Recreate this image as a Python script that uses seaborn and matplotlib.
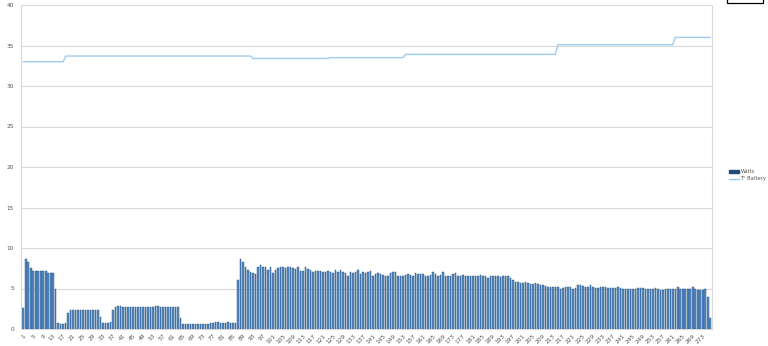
import numpy as np
import pandas as pd
import matplotlib
matplotlib.use("Agg")
import matplotlib.pyplot as plt
import seaborn as sns
from matplotlib.patches import Patch, Rectangle
from matplotlib.lines import Line2D

# ---------------- data ----------------
watts = [
    2.6, 8.7, 8.3, 7.5, 7.2, 7.1, 7.1, 7.1, 7.1, 7.2, 6.9, 6.9, 6.9, 5.0,
    0.8, 0.6, 0.6, 0.8, 2.0,
    2.4, 2.3, 2.3, 2.3, 2.3, 2.3, 2.3, 2.35, 2.3, 2.3, 2.3, 2.3,
    1.5, 0.8, 0.8, 0.8, 0.9, 2.3,
    2.75, 2.8, 2.8, 2.75, 2.7, 2.7, 2.7, 2.7, 2.7, 2.75, 2.7, 2.7, 2.7,
    2.75, 2.75, 2.75, 2.8, 2.9, 2.7, 2.7, 2.7, 2.7, 2.7, 2.7, 2.7, 2.7,
    1.4,
    0.6, 0.6, 0.6, 0.6, 0.6, 0.6, 0.6, 0.6, 0.6, 0.6, 0.65,
    0.7,
    0.8, 0.85, 0.85, 0.8, 0.8, 0.8, 0.9,
    0.7, 0.7, 0.7,
    6.0, 8.6, 8.3, 7.6, 7.3, 7.0, 6.9, 6.85, 7.6, 7.9, 7.7, 7.6, 7.3, 7.7,
    6.9, 7.3, 7.5, 7.6, 7.6, 7.5, 7.6, 7.6, 7.5,
    7.4, 7.6, 7.2, 7.2, 7.7, 7.4, 7.3, 7.0, 7.2, 7.2,
    7.2, 7.0, 7.0, 7.2, 7.0, 6.95, 7.3, 7.0, 7.3, 7.0,
    6.9, 6.6, 7.0, 6.9, 7.0, 7.3, 6.8, 7.0, 6.9, 7.0,
    7.1, 6.6, 6.8, 6.9, 6.8, 6.7, 6.6, 6.5, 6.9, 7.0,
    7.0, 6.6, 6.6, 6.6, 6.7, 6.8, 6.7, 6.6, 6.9, 6.8,
    6.8, 6.8, 6.6, 6.6, 6.7, 7.0,
    6.8, 6.6, 6.7, 7.0, 6.6, 6.6, 6.5, 6.8, 6.9, 6.6,
    6.5, 6.7, 6.5, 6.5, 6.5, 6.6, 6.5, 6.6, 6.7, 6.6,
    6.6, 6.3, 6.6, 6.6, 6.5, 6.5, 6.4, 6.6, 6.5, 6.5,
    6.3, 6.0, 5.8, 5.8, 5.7, 5.7, 5.8, 5.7, 5.6, 5.6,
    5.7, 5.6, 5.4, 5.4, 5.3, 5.2, 5.2, 5.2, 5.2, 5.2,
    5.0, 5.1, 5.2, 5.2, 5.2, 5.0,
    5.1, 5.4, 5.4, 5.35, 5.2, 5.2, 5.4, 5.2, 5.1, 5.1,
    5.2, 5.2, 5.2, 5.1, 5.1, 5.1, 5.1, 5.2, 5.1, 5.0,
    5.0, 5.0, 5.0, 4.95, 5.0, 5.1, 5.1, 5.1, 4.9, 4.9,
    5.0, 5.0, 5.05, 4.9, 4.8, 4.8, 5.0, 5.0, 4.95, 4.9,
    4.9, 5.2, 5.0, 5.0, 4.9, 4.9, 5.0, 5.2, 4.9, 4.8,
    4.85, 4.8, 4.9, 4.0, 1.3,
]

temp_battery = [
    33.0, 33.0, 33.0, 33.0, 33.0, 33.0, 33.0, 33.0, 33.0, 33.0, 33.0, 33.0, 33.0, 33.0, 33.0, 33.0, 33.0,
    33.7, 33.7, 33.7, 33.7, 33.7, 33.7, 33.7, 33.7, 33.7, 33.7, 33.7, 33.7, 33.7, 33.7, 33.7,
    33.7, 33.7, 33.7, 33.7, 33.7, 33.7, 33.7, 33.7, 33.7, 33.7, 33.7, 33.7, 33.7, 33.7, 33.7,
    33.7, 33.7, 33.7, 33.7, 33.7, 33.7, 33.7, 33.7, 33.7, 33.7, 33.7, 33.7, 33.7, 33.7, 33.7,
    33.7, 33.7, 33.7, 33.7, 33.7, 33.7, 33.7, 33.7, 33.7, 33.7, 33.7, 33.7, 33.7, 33.7, 33.7,
    33.7, 33.7, 33.7, 33.7, 33.7, 33.7, 33.7, 33.7, 33.7, 33.7, 33.7, 33.7, 33.7, 33.7, 33.7,
    33.4, 33.4, 33.4, 33.4, 33.4, 33.4, 33.4, 33.4, 33.4, 33.4, 33.4, 33.4, 33.4, 33.4, 33.4,
    33.4, 33.4, 33.4, 33.4, 33.4, 33.4, 33.4, 33.4, 33.4, 33.4, 33.4, 33.4, 33.4, 33.4, 33.4,
    33.4,
    33.5, 33.5, 33.5, 33.5, 33.5, 33.5, 33.5, 33.5, 33.5, 33.5, 33.5, 33.5, 33.5, 33.5, 33.5,
    33.5, 33.5, 33.5, 33.5, 33.5, 33.5, 33.5, 33.5, 33.5, 33.5, 33.5, 33.5, 33.5, 33.5, 33.5,
    33.9, 33.9, 33.9, 33.9, 33.9, 33.9, 33.9, 33.9, 33.9, 33.9, 33.9, 33.9, 33.9, 33.9, 33.9,
    33.9, 33.9, 33.9, 33.9, 33.9, 33.9, 33.9, 33.9, 33.9, 33.9, 33.9, 33.9, 33.9, 33.9, 33.9,
    33.9, 33.9, 33.9, 33.9, 33.9, 33.9, 33.9, 33.9, 33.9, 33.9, 33.9, 33.9, 33.9, 33.9, 33.9,
    33.9, 33.9, 33.9, 33.9, 33.9, 33.9, 33.9, 33.9, 33.9, 33.9, 33.9, 33.9, 33.9, 33.9, 33.9,
    33.9,
    35.1, 35.1, 35.1, 35.1, 35.1, 35.1, 35.1, 35.1, 35.1, 35.1, 35.1, 35.1, 35.1, 35.1, 35.1,
    35.1, 35.1, 35.1, 35.1, 35.1, 35.1, 35.1, 35.1, 35.1, 35.1, 35.1, 35.1, 35.1, 35.1, 35.1,
    35.1, 35.1, 35.1, 35.1, 35.1, 35.1, 35.1, 35.1, 35.1, 35.1, 35.1, 35.1, 35.1, 35.1, 35.1,
    35.1, 35.1,
    36.0, 36.0, 36.0, 36.0, 36.0, 36.0, 36.0, 36.0, 36.0, 36.0, 36.0, 36.0, 36.0, 36.0, 36.0,
]

series_names = ["Watts", "T° Battery"]
y_ticks = [0, 5, 10, 15, 20, 25, 30, 35, 40]

N = len(watts)
assert len(temp_battery) == N, (len(watts), len(temp_battery))
categories = [str(i) for i in range(1, N + 1)]

# ---------------- styling ----------------
sns.set_style("white")
plt.rcParams['font.family'] = ['DejaVu Sans']

bar_face = "#5a8cc6"
bar_edge = "#1f4e79"
line_col = "#9fcbee"
grid_col = "#d9d9d9"
text_col = "#555555"

fig = plt.figure(figsize=(7.68, 3.46), dpi=100)
ax = fig.add_axes([21 / 768, 17 / 346, 691 / 768, 324 / 346])

df = pd.DataFrame({"cat": categories, "Watts": watts, "Temp": temp_battery})

sns.barplot(data=df, x="cat", y="Watts", color=bar_face, saturation=1,
            edgecolor=bar_edge, linewidth=0.3, width=0.62, ax=ax, zorder=2)
sns.lineplot(x=np.arange(N), y=df["Temp"], color=line_col, linewidth=1.0,
             ax=ax, zorder=3)

ax.set_xlim(-0.9, N - 1 + 0.7)
ax.set_ylim(0, 40)
ax.set_yticks(y_ticks)
ax.set_yticklabels([str(v) for v in y_ticks])
ax.set_xticks(np.arange(0, N, 4))
ax.set_xticklabels([categories[i] for i in range(0, N, 4)], rotation=45,
                   ha="right", va="top", rotation_mode="anchor")
ax.tick_params(axis="both", length=0, labelsize=4.2, colors=text_col)
ax.tick_params(axis="x", pad=3)
ax.tick_params(axis="y", pad=5)
ax.set_xlabel("")
ax.set_ylabel("")

ax.grid(axis="y", color=grid_col, linewidth=0.8, zorder=0)
ax.set_axisbelow(True)
for side in ["left", "right", "bottom"]:
    ax.spines[side].set_visible(True)
    ax.spines[side].set_color(grid_col)
    ax.spines[side].set_linewidth(0.8)
ax.spines["top"].set_visible(False)

handles = [Patch(facecolor=bar_edge, edgecolor=bar_edge),
           Line2D([], [], color=line_col, linewidth=1.0)]
fig.legend(handles=handles, labels=series_names, loc="upper left",
           bbox_to_anchor=(726 / 768, 1 - 166 / 346), frameon=False,
           fontsize=3.6, handlelength=2.0, handleheight=0.6,
           handletextpad=0.3, labelspacing=0.45, labelcolor=text_col,
           borderaxespad=0.2)

fig.add_artist(Rectangle((727 / 768, 1 - 2.5 / 346), 36 / 768, 0.05,
                         transform=fig.transFigure, fill=False,
                         edgecolor="black", linewidth=0.9, clip_on=False))

fig.savefig("out.png", dpi=100)
